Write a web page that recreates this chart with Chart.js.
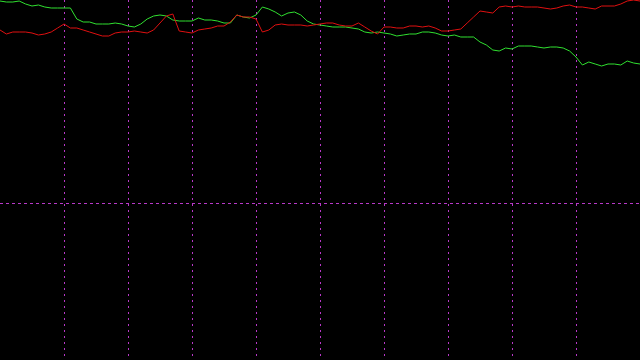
<!DOCTYPE html>
<html>
<head>
<meta charset="utf-8">
<script src="https://cdn.jsdelivr.net/npm/chart.js@4/dist/chart.umd.min.js"></script>
<style>
  html, body { margin: 0; padding: 0; background: #000; }
  #chart { display: block; }
</style>
</head>
<body>
<canvas id="chart" width="640" height="360"></canvas>
<script>
// bar index 0..100
const labels = Array.from({ length: 101 }, (_, i) => String(i));

// values (height above bottom edge, 0..360)
const greenValues = [
  359, 358, 358, 359, 356, 354, 355, 353, 352, 352,
  352, 352, 341, 338, 338, 336, 336, 336, 337, 336,
  334, 333, 336, 341, 344, 345, 344, 340, 339, 339,
  339, 342, 340, 340, 339, 337, 337, 345, 343, 342,
  345, 353, 351, 348, 344, 347, 348, 345, 339, 336,
  335, 334, 333, 333, 333, 332, 331, 328, 327, 328,
  327, 326, 324, 325, 326, 326, 328, 328, 327, 325,
  324, 325, 323, 323, 323, 318, 315, 310, 309, 312,
  311, 314, 314, 314, 313, 312, 313, 313, 312, 309,
  303, 295, 298, 296, 294, 296, 296, 295, 299, 297,
  296
];

const redValues = [
  330, 326, 328, 328, 328, 327, 325, 326, 328, 332,
  336, 332, 332, 330, 328, 326, 324, 324, 327, 328,
  328, 329, 328, 327, 330, 337, 344, 346, 329, 328,
  327, 330, 331, 332, 334, 334, 338, 345, 343, 343,
  341, 328, 330, 335, 336, 335, 335, 335, 334, 335,
  336, 337, 337, 335, 334, 334, 337, 333, 329, 326,
  333, 333, 332, 332, 334, 334, 333, 334, 332, 329,
  329, 330, 331, 337, 343, 349, 348, 347, 353, 354,
  353, 354, 353, 353, 353, 352, 351, 352, 354, 355,
  353, 353, 352, 351, 354, 354, 354, 356, 359, 360,
  359
];

const xGridEvery = 10;
const yGridValues = [157];

const gridPurple = '#b838c8';

const ctx = document.getElementById('chart').getContext('2d');

new Chart(ctx, {
  type: 'line',
  data: {
    labels: labels,
    datasets: [
      {
        label: 'Red',
        data: redValues,
        borderColor: '#e01010',
        borderWidth: 1,
        pointRadius: 0,
        tension: 0,
        fill: false,
      },
      {
        label: 'Green',
        data: greenValues,
        borderColor: '#30e030',
        borderWidth: 1,
        pointRadius: 0,
        tension: 0,
        fill: false,
      },
    ],
  },
  options: {
    responsive: false,
    animation: false,
    devicePixelRatio: 1,
    layout: { padding: 0 },
    plugins: {
      legend: { display: false },
      tooltip: { enabled: false },
    },
    scales: {
      x: {
        type: 'category',
        offset: false,
        ticks: { display: false },
        border: { display: false, dash: [2, 4] },
        grid: {
          drawTicks: false,
          lineWidth: 1,
          color: (c) => (c.index > 0 && c.index % xGridEvery === 0 && c.index < labels.length - 1) ? gridPurple : 'rgba(0,0,0,0)',
        },
      },
      y: {
        min: 0,
        max: 360,
        ticks: { display: false },
        afterBuildTicks: (axis) => {
          axis.ticks = yGridValues.map((v) => ({ value: v }));
        },
        border: { display: false, dash: [3, 3] },
        grid: {
          drawTicks: false,
          lineWidth: 1,
          color: gridPurple,
        },
      },
    },
  },
});
</script>
</body>
</html>
